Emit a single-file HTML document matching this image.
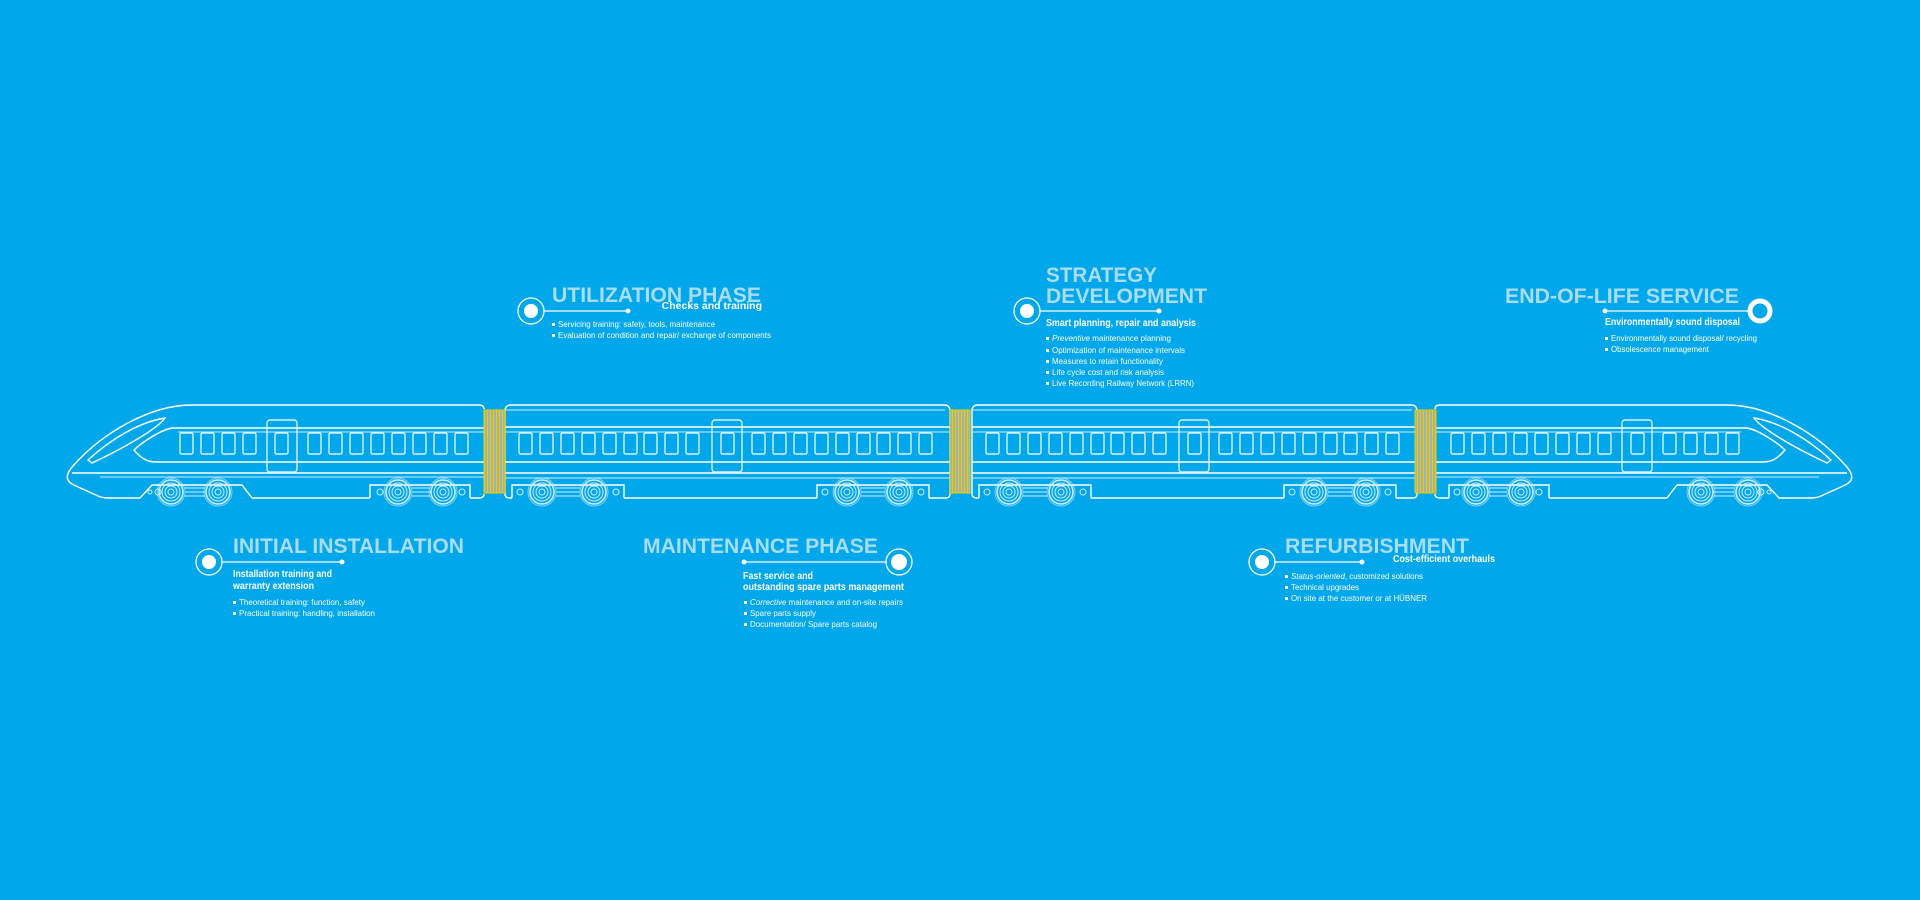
<!DOCTYPE html>
<html><head><meta charset="utf-8"><style>
html,body{margin:0;padding:0;background:#00a7ea;width:1920px;height:900px;overflow:hidden}
svg{display:block}
text{font-family:"Liberation Sans",Arial,sans-serif}
.t{fill:#a9dcf5;font-weight:bold;font-size:21px}
.s{fill:#fff;font-weight:bold;font-size:10.5px}
.b{fill:#fff;font-size:8.5px}
.ln{stroke:#fff;stroke-width:1.3;fill:none}
.tl{stroke:#fff;stroke-width:1.4;fill:none}
.tl2{stroke:#cfeefc;stroke-width:1;fill:none}
.w{stroke:#d8f1fd;stroke-width:1.4;fill:none}
</style></head><body>
<svg width="1920" height="900" viewBox="0 0 1920 900" xmlns="http://www.w3.org/2000/svg">
<defs>
<pattern id="acc" x="484" y="0" width="3" height="10" patternUnits="userSpaceOnUse">
<rect width="3" height="10" fill="#9fb3a8"/><rect width="1" height="10" fill="#f2cc00"/>
</pattern>
<g id="win"><rect x="0" y="433" width="13" height="21" rx="1.5" class="w"/></g>
<g id="wheel" class="tl2">
<circle r="3"/><circle r="6"/><circle r="9"/><circle r="12" stroke-width="1.6"/><circle r="14" stroke-opacity=".6"/>
</g>
<g id="car1">
<path class="tl" d="M484 409 Q484 405 479 405 L192 405 C150 405 102 433 73 466 C64 476 66 482 76 486 L98 496 Q102 498 110 498 L140 498 M252 498 L370 498 M470 498 L479 498 Q484 498 484 494"/>
<path class="tl" d="M88 460 C112 438 140 422 165 418 C158 428 128 446 92 463 Z"/>
<path class="tl" d="M484 428 L172 428 C160 430 140 444 134 450 C140 457 146 462 156 462 L484 462"/>
<path class="tl2" d="M484 432 L178 432"/>
<path class="tl" d="M72 473 L484 473"/>
<path class="tl2" d="M484 477 L100 477"/>
<rect x="267" y="420" width="30" height="52" rx="3" class="w"/>
<use href="#win" x="180"/><use href="#win" x="201"/><use href="#win" x="222"/><use href="#win" x="243"/>
<use href="#win" x="275"/>
<use href="#win" x="308"/><use href="#win" x="329"/><use href="#win" x="350"/><use href="#win" x="371"/><use href="#win" x="392"/><use href="#win" x="413"/><use href="#win" x="434"/><use href="#win" x="455"/>
<path class="tl" d="M140 498 L152 485 L242 485 L252 498"/>
<path class="tl2" d="M185 488 L205 488 M185 492 L205 492 M185 496 L205 496"/>
<circle cx="158" cy="492" r="3" class="tl2"/><circle cx="150" cy="492" r="2" class="tl2"/>
<use href="#wheel" x="171" y="492"/><use href="#wheel" x="218" y="492"/>
<path class="tl" d="M370 498 L370 485 L470 485 L470 498"/>
<path class="tl2" d="M412 488 L430 488 M412 492 L430 492 M412 496 L430 496"/>
<circle cx="380" cy="492" r="3" class="tl2"/><circle cx="462" cy="492" r="3" class="tl2"/>
<use href="#wheel" x="398" y="492"/><use href="#wheel" x="443" y="492"/>
</g>
<g id="bog">
<path class="tl" d="M-30 498 L-30 485 L82 485 L82 498"/>
<path class="tl2" d="M14 488 L38 488 M14 492 L38 492 M14 496 L38 496"/>
<circle cx="-22" cy="492" r="3" class="tl2"/><circle cx="74" cy="492" r="3" class="tl2"/>
<use href="#wheel" x="0" y="492"/><use href="#wheel" x="52" y="492"/>
</g>
<g id="car2">
<path class="tl" d="M505 494 L505 411 Q505 405 511 405 L944 405 Q950 405 950 411 L950 494 Q950 498 946 498 L929 498 M817 498 L624 498 M512 498 L510 498 Q505 498 505 494"/>
<path class="tl2" d="M505 410 L945 410"/>
<path class="tl" d="M505 427 L950 427 M505 462 L950 462 M505 473 L950 473"/>
<path class="tl2" d="M505 432 L950 432 M505 478 L950 478"/>
<rect x="712" y="420" width="30" height="52" rx="3" class="w"/>
<use href="#win" x="519"/><use href="#win" x="540"/><use href="#win" x="561"/><use href="#win" x="582"/><use href="#win" x="603"/><use href="#win" x="624"/><use href="#win" x="644"/><use href="#win" x="665"/><use href="#win" x="686"/>
<use href="#win" x="721"/>
<use href="#win" x="752"/><use href="#win" x="773"/><use href="#win" x="794"/><use href="#win" x="815"/><use href="#win" x="836"/><use href="#win" x="857"/><use href="#win" x="877"/><use href="#win" x="898"/><use href="#win" x="919"/>
<use href="#bog" x="542"/><use href="#bog" x="847"/>
</g>
</defs>

<use href="#car1"/>
<use href="#car1" transform="translate(1919,0) scale(-1,1)"/>
<use href="#car2"/>
<use href="#car2" transform="translate(467,0)"/>
<rect x="484" y="410" width="21" height="83" fill="url(#acc)" stroke="#f2cc00" stroke-width="1"/>
<rect x="950" y="410" width="20" height="83" fill="url(#acc)" stroke="#f2cc00" stroke-width="1"/>
<rect x="1415" y="410" width="21" height="83" fill="url(#acc)" stroke="#f2cc00" stroke-width="1"/>

<circle cx="531" cy="311" r="13" class="ln"/><circle cx="531" cy="311" r="7" fill="#fff"/>
<line x1="544" y1="311" x2="628" y2="311" class="ln" stroke-width="1"/><circle cx="628" cy="311" r="2.5" fill="#fff"/>
<text x="552" y="302" class="t" textLength="209" lengthAdjust="spacingAndGlyphs">UTILIZATION PHASE</text>
<text x="762" y="309" class="s" text-anchor="end">Checks and training</text>
<rect x="552" y="323" width="3" height="3" fill="#fff"/><text x="558" y="327" class="b" textLength="157" lengthAdjust="spacingAndGlyphs">Servicing training: safety, tools, maintenance</text>
<rect x="552" y="334" width="3" height="3" fill="#fff"/><text x="558" y="338" class="b" textLength="213" lengthAdjust="spacingAndGlyphs">Evaluation of condition and repair/ exchange of components</text>

<circle cx="1027" cy="311" r="13" class="ln"/><circle cx="1027" cy="311" r="7" fill="#fff"/>
<line x1="1040" y1="311" x2="1159" y2="311" class="ln" stroke-width="1"/><circle cx="1159" cy="311" r="2.5" fill="#fff"/>
<text x="1046" y="282" class="t" textLength="111" lengthAdjust="spacingAndGlyphs">STRATEGY</text>
<text x="1046" y="303" class="t" textLength="161" lengthAdjust="spacingAndGlyphs">DEVELOPMENT</text>
<text x="1046" y="326" class="s" textLength="150" lengthAdjust="spacingAndGlyphs">Smart planning, repair and analysis</text>
<rect x="1046" y="337" width="3" height="3" fill="#fff"/><text x="1052" y="341" class="b" textLength="119" lengthAdjust="spacingAndGlyphs"><tspan font-style="italic">Preventive</tspan> maintenance planning</text>
<rect x="1046" y="349" width="3" height="3" fill="#fff"/><text x="1052" y="353" class="b" textLength="133" lengthAdjust="spacingAndGlyphs">Optimization of maintenance intervals</text>
<rect x="1046" y="360" width="3" height="3" fill="#fff"/><text x="1052" y="364" class="b" textLength="111" lengthAdjust="spacingAndGlyphs">Measures to retain functionality</text>
<rect x="1046" y="371" width="3" height="3" fill="#fff"/><text x="1052" y="375" class="b" textLength="112" lengthAdjust="spacingAndGlyphs">Life cycle cost and risk analysis</text>
<rect x="1046" y="382" width="3" height="3" fill="#fff"/><text x="1052" y="386" class="b" textLength="142" lengthAdjust="spacingAndGlyphs">Live Recording Railway Network (LRRN)</text>

<text x="1505" y="303" class="t" textLength="234" lengthAdjust="spacingAndGlyphs">END-OF-LIFE SERVICE</text>
<line x1="1605" y1="311" x2="1750" y2="311" class="ln" stroke-width="1"/><circle cx="1605" cy="311" r="2.5" fill="#fff"/>
<circle cx="1760" cy="311" r="10" fill="none" stroke="#fff" stroke-width="5"/>
<text x="1605" y="325" class="s" textLength="135" lengthAdjust="spacingAndGlyphs">Environmentally sound disposal</text>
<rect x="1605" y="337" width="3" height="3" fill="#fff"/><text x="1611" y="341" class="b" textLength="146" lengthAdjust="spacingAndGlyphs">Environmentally sound disposal/ recycling</text>
<rect x="1605" y="348" width="3" height="3" fill="#fff"/><text x="1611" y="352" class="b" textLength="98" lengthAdjust="spacingAndGlyphs">Obsolescence management</text>

<circle cx="209" cy="562" r="13" class="ln"/><circle cx="209" cy="562" r="7" fill="#fff"/>
<line x1="222" y1="562" x2="342" y2="562" class="ln" stroke-width="1"/><circle cx="342" cy="562" r="2.5" fill="#fff"/>
<text x="233" y="553" class="t" textLength="231" lengthAdjust="spacingAndGlyphs">INITIAL INSTALLATION</text>
<text x="233" y="577" class="s" textLength="99" lengthAdjust="spacingAndGlyphs">Installation training and</text>
<text x="233" y="589" class="s" textLength="81" lengthAdjust="spacingAndGlyphs">warranty extension</text>
<rect x="233" y="601" width="3" height="3" fill="#fff"/><text x="239" y="605" class="b" textLength="126" lengthAdjust="spacingAndGlyphs">Theoretical training: function, safety</text>
<rect x="233" y="612" width="3" height="3" fill="#fff"/><text x="239" y="616" class="b" textLength="136" lengthAdjust="spacingAndGlyphs">Practical training: handling, installation</text>

<text x="643" y="553" class="t" textLength="235" lengthAdjust="spacingAndGlyphs">MAINTENANCE PHASE</text>
<line x1="744" y1="562" x2="886" y2="562" class="ln" stroke-width="1"/><circle cx="744" cy="562" r="2.5" fill="#fff"/>
<circle cx="899" cy="562" r="13" class="ln"/><circle cx="899" cy="562" r="8" fill="#fff"/>
<text x="743" y="579" class="s" textLength="70" lengthAdjust="spacingAndGlyphs">Fast service and</text>
<text x="743" y="590" class="s" textLength="161" lengthAdjust="spacingAndGlyphs">outstanding spare parts management</text>
<rect x="744" y="601" width="3" height="3" fill="#fff"/><text x="750" y="605" class="b" textLength="153" lengthAdjust="spacingAndGlyphs"><tspan font-style="italic">Corrective</tspan> maintenance and on-site repairs</text>
<rect x="744" y="612" width="3" height="3" fill="#fff"/><text x="750" y="616" class="b" textLength="66" lengthAdjust="spacingAndGlyphs">Spare parts supply</text>
<rect x="744" y="623" width="3" height="3" fill="#fff"/><text x="750" y="627" class="b" textLength="127" lengthAdjust="spacingAndGlyphs">Documentation/ Spare parts catalog</text>

<circle cx="1262" cy="562" r="13" class="ln"/><circle cx="1262" cy="562" r="7" fill="#fff"/>
<line x1="1275" y1="562" x2="1362" y2="562" class="ln" stroke-width="1"/><circle cx="1362" cy="562" r="2.5" fill="#fff"/>
<text x="1285" y="553" class="t" textLength="184" lengthAdjust="spacingAndGlyphs">REFURBISHMENT</text>
<text x="1393" y="562" class="s" textLength="102" lengthAdjust="spacingAndGlyphs">Cost-efficient overhauls</text>
<rect x="1285" y="575" width="3" height="3" fill="#fff"/><text x="1291" y="579" class="b" textLength="132" lengthAdjust="spacingAndGlyphs"><tspan font-style="italic">Status-oriented</tspan>, customized solutions</text>
<rect x="1285" y="586" width="3" height="3" fill="#fff"/><text x="1291" y="590" class="b" textLength="68" lengthAdjust="spacingAndGlyphs">Technical upgrades</text>
<rect x="1285" y="597" width="3" height="3" fill="#fff"/><text x="1291" y="601" class="b" textLength="136" lengthAdjust="spacingAndGlyphs">On site at the customer or at HÜBNER</text>
</svg>
</body></html>
